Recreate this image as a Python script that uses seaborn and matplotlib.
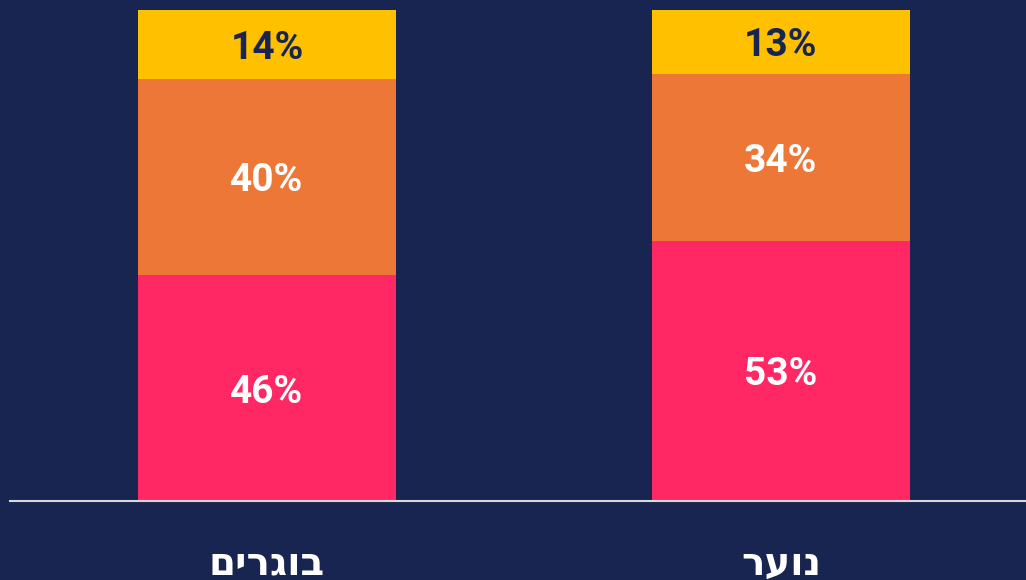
import matplotlib
matplotlib.use("Agg")
import matplotlib.pyplot as plt
import seaborn as sns
import pandas as pd

# data (Hebrew labels stored in visual order, matplotlib has no bidi)
groups = ["םירגוב", "רעונ"]  # בוגרים, נוער
pink_vals = [46, 53]
orange_vals = [40, 34]
yellow_vals = [14, 13]

BG = "#172550"
PINK = "#FF2865"
ORANGE = "#ED7736"
YELLOW = "#FFC000"

sns.set_theme(style="white")
plt.rcParams["font.family"] = ["Roboto", "DejaVu Sans"]

df = pd.DataFrame({
    "group": groups,
    "pink": pink_vals,
    "orange": orange_vals,
    "yellow": yellow_vals,
})
df["top_orange"] = df["pink"] + df["orange"]
df["top_yellow"] = df["top_orange"] + df["yellow"]

fig = plt.figure(figsize=(10.26, 5.8), dpi=100, facecolor=BG)
ax = fig.add_axes([10 / 1026, 79 / 580, 1016 / 1026, 491 / 580])
ax.set_facecolor(BG)

# layered cumulative bars -> stacked look
for col, color in [("top_yellow", YELLOW), ("top_orange", ORANGE), ("pink", PINK)]:
    sns.barplot(data=df, x="group", y=col, color=color, width=0.502,
                saturation=1, ax=ax, linewidth=0, errorbar=None)

# segment labels
lbl_kw = dict(ha="center", va="center_baseline", fontsize=28, fontweight="bold")
for i, row in df.iterrows():
    ax.text(i, row["pink"] / 2, f"{row['pink']}%", color="white", **lbl_kw)
    ax.text(i, row["pink"] + row["orange"] / 2, f"{row['orange']}%",
            color="white", **lbl_kw)
    ax.text(i, row["top_orange"] + row["yellow"] / 2, f"{row['yellow']}%",
            color=BG, **lbl_kw)

ax.set_xlim(-0.5, 1.477)
ax.set_ylim(0, 100)
ax.set_xlabel("")
ax.set_ylabel("")
ax.set_yticks([])
ax.tick_params(axis="x", length=0, pad=32, labelsize=28, labelcolor="white")
for lbl in ax.get_xticklabels():
    lbl.set_fontweight("bold")

for side in ["top", "left", "right"]:
    ax.spines[side].set_visible(False)
ax.spines["bottom"].set_color("#D9D9D9")
ax.spines["bottom"].set_linewidth(1.5)

fig.savefig("out.png", dpi=100, facecolor=BG)
